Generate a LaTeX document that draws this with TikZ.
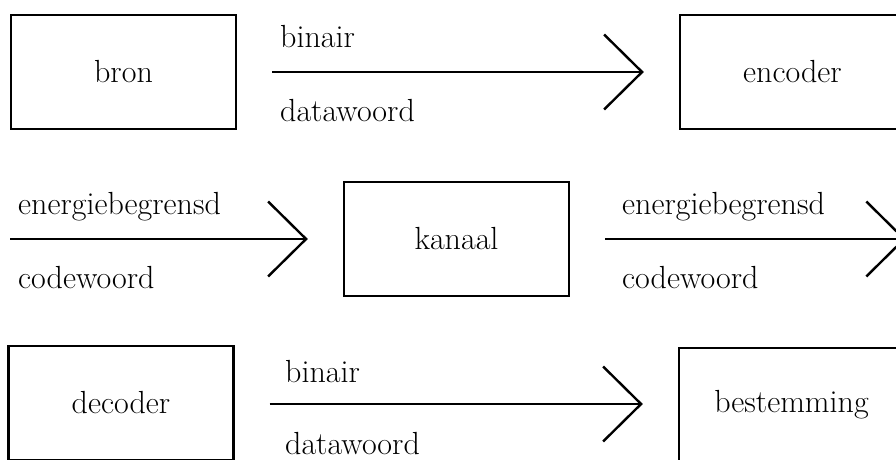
\documentclass[tikz,border=0pt]{standalone}
\usepackage{tikz}
\usetikzlibrary{positioning, arrows.meta}

\begin{document}
\begin{tikzpicture}[x=1pt, y=1pt,
    blok/.style={draw, line width=2.4pt, minimum width=225pt, minimum height=114pt,
      inner sep=0pt, font=\fontsize{32}{38}\selectfont},
    pijl/.style={line width=2.4pt, -{Straight Barb[length=38pt, width=75pt]},
      shorten <=35pt, shorten >=35pt},
    lbl/.style={anchor=base west, inner sep=0pt, font=\fontsize{32}{38}\selectfont}]
        \useasboundingbox (0,0) rectangle (896,459);
        \clip (0,0) rectangle (896,459);
        % blokken
        \node[blok] (bron)       at (123.5,387) {bron};
        \node[blok] (encoder)    at (792.5,387) {encoder};
        \node[blok] (kanaal)     at (456.5,220) {kanaal};
        \node[blok] (decoder)    at (121,56)    {decoder};
        \node[blok] (bestemming) at (791.5,54)  {bestemming};
        \coordinate (inkanaal)  at (-25,220);
        \coordinate (uitkanaal) at (941,220);
        % verbindingen
        \draw[pijl] (bron) -- (encoder);
        \draw[pijl] (inkanaal) -- (kanaal);
        \draw[pijl] (kanaal) -- (uitkanaal);
        \draw[pijl] (decoder.east |- 0,55) -- (bestemming.west |- 0,55);
        % labels
        \node[lbl] (bin1)  at (280,411) {binair};
        \node[lbl] (dat1)  at (280,338) {datawoord};
        \node[lbl] (eng1)  at (18,245)  {energiebegrensd};
        \node[lbl] (cod1)  at (18,171)  {codewoord};
        \node[lbl] (eng2)  at (622,245) {energiebegrensd};
        \node[lbl] (cod2)  at (622,171) {codewoord};
        \node[lbl] (bin2)  at (285,77)  {binair};
        \node[lbl] (dat2)  at (285,5)   {datawoord};
      \end{tikzpicture}
\end{document}
